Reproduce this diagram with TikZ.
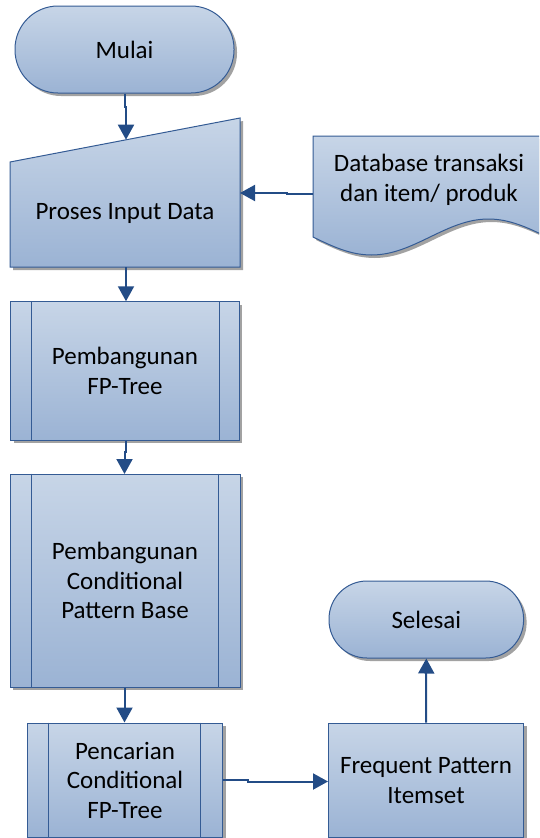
\documentclass[tikz,border=0pt]{standalone}
\usepackage{fontspec}
\setmainfont{Carlito}
\usetikzlibrary{arrows.meta,shadows}
\definecolor{cTop}{HTML}{C7D5E7}
\definecolor{cBot}{HTML}{9BB3D4}
\definecolor{cBorder}{HTML}{345B94}
\definecolor{cArrow}{HTML}{234C86}
\definecolor{cShadow}{HTML}{A2A2A2}
\tikzset{
  shp/.style={draw=cBorder, line width=1pt, top color=cTop, bottom color=cBot,
    drop shadow={shadow xshift=3pt, shadow yshift=-3pt, fill=cShadow, opacity=1}},
  lbl/.style={font=\fontsize{25}{29.5}\selectfont, align=center, text=black, inner sep=0pt},
  term/.style={shp, rectangle, rounded corners=38pt, inner sep=0pt},
  pproc/.style={shp, rectangle, inner sep=0pt},
  anchorbox/.style={rectangle, inner sep=0pt},
  conn/.style={draw=cArrow, line width=2pt, -{Triangle[length=15pt,width=16pt]}},
}
\begin{document}
\begin{tikzpicture}[x=1pt, y=-1pt]
\useasboundingbox (0,0) rectangle (539,838);
\clip (0,0) rectangle (539,838);

% Mulai
\node[term, minimum width=219pt, minimum height=87pt, rounded corners=43pt] (mulai) at (124.5,49.5) {};
\node[lbl] (mulaitxt) at (mulai.center) {Mulai};

% Proses Input Data (manual input)
\path[shp] (10,162) -- (240,118) -- (240,267) -- (10,267) -- cycle;
\node[anchorbox, minimum width=230pt, minimum height=149pt] (proses) at (125,192.5) {};
\node[lbl] (prosestxt) at (125,213) {Proses Input Data};
\coordinate (prosestop) at (126,139.7);
\coordinate (prosesright) at (240,193);

% Database (document)
\path[shp] (313,136) -- (547,136) -- (547,237) sin (488.5,219) cos (430,237) sin (371.5,255) cos (313,237) -- cycle;
\node[lbl] (dbtxt) at (429,180) {Database transaksi\\dan item/ produk};
\coordinate (dbleft) at (313,194);

% Pembangunan FP-Tree
\node[pproc, minimum width=228.6pt, minimum height=138.3pt] (fpt) at (125,370.9) {};
\draw[draw=cBorder, line width=1pt] ([xshift=21pt]fpt.north west) -- ([xshift=21pt]fpt.south west)
  ([xshift=-20.5pt]fpt.north east) -- ([xshift=-20.5pt]fpt.south east);
\node[lbl] (fpttxt) at (fpt.center) {Pembangunan\\FP-Tree};

% Pembangunan Conditional Pattern Base
\node[pproc, minimum width=230pt, minimum height=213pt] (cpb) at (125,580.5) {};
\draw[draw=cBorder, line width=1pt] ([xshift=21.5pt]cpb.north west) -- ([xshift=21.5pt]cpb.south west)
  ([xshift=-22.5pt]cpb.north east) -- ([xshift=-22.5pt]cpb.south east);
\node[lbl] (cpbtxt) at (cpb.center) {Pembangunan\\Conditional\\Pattern Base};

% Pencarian Conditional FP-Tree
\node[pproc, minimum width=195pt, minimum height=114pt] (pcr) at (125,780) {};
\draw[draw=cBorder, line width=1pt] ([xshift=21.5pt]pcr.north west) -- ([xshift=21.5pt]pcr.south west)
  ([xshift=-23pt]pcr.north east) -- ([xshift=-23pt]pcr.south east);
\node[lbl] (pcrtxt) at (pcr.center) {Pencarian\\Conditional\\FP-Tree};

% Frequent Pattern Itemset
\node[pproc, minimum width=195pt, minimum height=114pt] (fpi) at (426,780) {};
\node[lbl] (fpitxt) at (426,780.5) {Frequent Pattern\\Itemset};

% Selesai
\node[term, minimum width=194.6pt, minimum height=77pt] (sel) at (426.3,619.5) {};
\node[lbl] (seltxt) at (sel.center) {Selesai};

% Connectors
\draw[conn] (mulai.south) -- (124.5,107) -- (126,107) -- (prosestop);
\draw[conn] (dbleft) -- (287,194) -- (287,193) -- (prosesright);
\draw[conn] (126,267) -- (fpt.north -| 126,0);
\draw[conn] ([xshift=1pt]fpt.south) -- (126,452) -- (124.5,452) -- (124.5,474);
\draw[conn] (cpb.south -| 124.5,0) -- (pcr.north -| 124.5,0);
\draw[conn] (pcr.east |- 0,780) -- (248,780) -- (248,781.5) -- (fpi.west |- 0,781.5);
\draw[conn] (fpi.north) -- (sel.south);
\end{tikzpicture}
\end{document}
